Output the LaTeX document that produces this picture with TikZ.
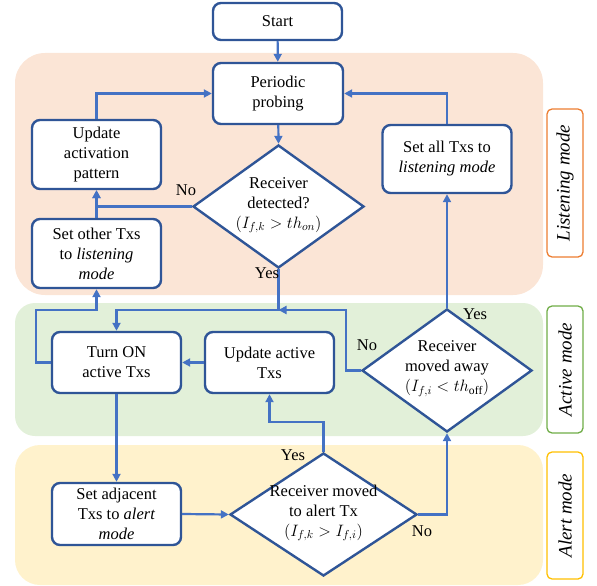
\RequirePackage{fix-cm}
\documentclass[tikz,border=0pt]{standalone}
\usepackage{fontspec}
\setmainfont{Liberation Serif}
\usetikzlibrary{arrows.meta,shapes.geometric,calc}
\definecolor{peach}{HTML}{FBE5D6}
\definecolor{lgreen}{HTML}{E2F0D9}
\definecolor{lyellow}{HTML}{FFF2CC}
\definecolor{borange}{HTML}{ED7D31}
\definecolor{bgreen}{HTML}{70AD47}
\definecolor{bgold}{HTML}{FFC000}
\definecolor{boxblue}{HTML}{2F5597}
\definecolor{arrblue}{HTML}{4472C4}
\tikzset{
  flowbox/.style={draw=boxblue, line width=2.4pt, fill=white, rounded corners=8pt, align=center, inner sep=0pt},
  decision/.style={diamond, draw=boxblue, line width=2.4pt, fill=white, inner sep=0pt},
  dtext/.style={align=center, inner sep=0pt},
  arr/.style={draw=arrblue, line width=2.2pt, -{Triangle[length=8pt,width=8pt]}},
  lbl/.style={inner sep=0pt},
  modelabel/.style={draw, line width=1.3pt, rounded corners=5pt, fill=white, inner sep=0pt, minimum width=36pt, font=\fontsize{19}{22}\selectfont\itshape},
}
\begin{document}
\begin{tikzpicture}[x=1pt, y=-1pt, font=\fontsize{16.5}{20}\selectfont]
\useasboundingbox (0,0) rectangle (597,586);
% backgrounds
\fill[peach, rounded corners=30pt] (15,53) rectangle (543,295);
\fill[lgreen, rounded corners=20pt] (15,303) rectangle (543,436);
\fill[lyellow, rounded corners=25pt] (15,445) rectangle (543,585);
% mode labels
\node[modelabel, draw=borange, minimum height=148pt] (lm) at (565,183) {\rotatebox{90}{Listening mode}};
\node[modelabel, draw=bgreen, minimum height=127pt] (am) at (565,369.5) {\rotatebox{90}{Active mode}};
\node[modelabel, draw=bgold, minimum height=127pt] (alm) at (565,515.5) {\rotatebox{90}{Alert mode}};
% boxes
\node[flowbox, minimum width=129pt, minimum height=37pt] (start) at (277.5,21.5) {Start};
\node[flowbox, minimum width=130pt, minimum height=61pt] (periodic) at (278,93.5) {Periodic\\probing};
\node[flowbox, minimum width=129pt, minimum height=69pt] (upd) at (96.5,154.5) {Update\\activation\\pattern};
\node[flowbox, minimum width=129pt, minimum height=69pt] (setother) at (96.5,253.5) {Set other Txs\\to \textit{listening}\\\textit{mode}};
\node[flowbox, minimum width=129pt, minimum height=68pt] (setall) at (447,159) {Set all Txs to\\\textit{listening mode}};
\node[flowbox, minimum width=129pt, minimum height=61pt] (turnon) at (116.5,362.5) {Turn ON\\active Txs};
\node[flowbox, minimum width=129pt, minimum height=61pt] (updact) at (269.5,362.5) {Update active\\Txs};
\node[flowbox, minimum width=129pt, minimum height=62pt] (setadj) at (116.5,514) {Set adjacent\\Txs to \textit{alert}\\\textit{mode}};
% decisions
\node[decision, minimum width=171pt, minimum height=123pt] (d1) at (278.5,206.5) {};
\node[dtext] at (278.5,205) {Receiver\\detected?\\$\big(I_{f,k} > th_{on}\big)$};
\node[decision, minimum width=170pt, minimum height=123pt] (d2) at (447,370.5) {};
\node[dtext] at (447,368.5) {Receiver\\moved away\\$(I_{f,i} < th_{\mathrm{off}})$};
\node[decision, minimum width=187pt, minimum height=123pt] (d3) at (323.5,514.5) {};
\node[dtext] at (323.5,513) {Receiver moved\\to alert Tx\\$\big(I_{f,k} > I_{f,i}\big)$};
% junctions
\coordinate (j1) at (278.5,310);
\coordinate (c1) at (36,310);
% connectors
\draw[arr] (start) -- (periodic);
\draw[arr] (periodic) -- (d1.north);
\draw[arr] (d1.west) -| (upd.south);
\draw[arr] (setother.north) -- (upd.south);
\draw[arr] (upd.north) |- (periodic.west);
\draw[arr] (setall.north) |- (periodic.east);
\draw[arr] (d2.north) -- (setall.south);
\draw[arr] (d1.south) -- (j1) -| (turnon.north);
\draw[arr] (d2.west) -- ++(-15,0) |- (j1);
\draw[arr] (updact.west) -- (turnon.east);
\draw[arr] (turnon.west) -| (c1) -| (setother.south);
\draw[arr] (turnon.south) -- (setadj.north);
\draw[arr] (setadj.east) -- (d3.west);
\draw[arr] (d3.north) -- ++(0,-30) -| (updact.south);
\draw[arr] (d3.east) -| (d2.south);
% edge labels
\node[lbl] (l1) at (186,190) {No};
\node[lbl] (l2) at (267,273) {Yes};
\node[lbl] (l3) at (475,314) {Yes};
\node[lbl] (l4) at (367,345) {No};
\node[lbl] (l5) at (293,455) {Yes};
\node[lbl] (l6) at (422,531) {No};
\end{tikzpicture}
\end{document}
